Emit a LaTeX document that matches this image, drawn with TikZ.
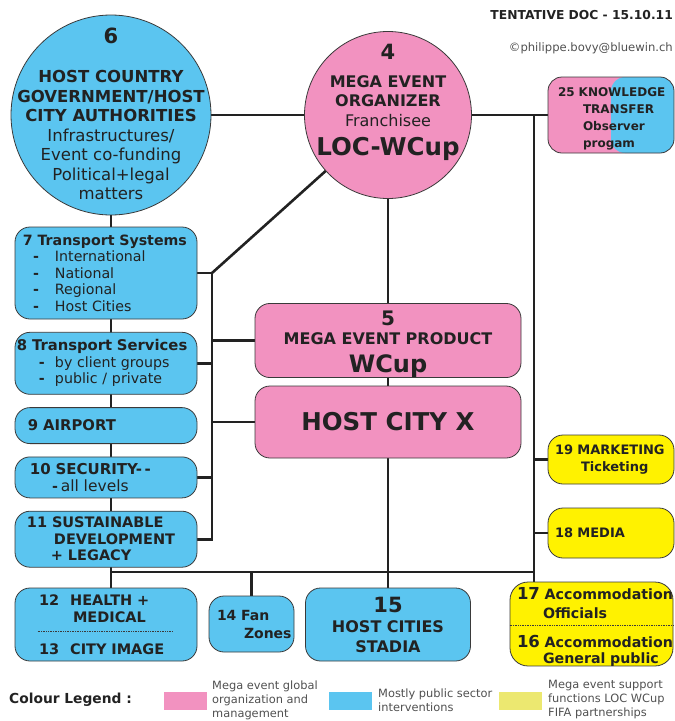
\documentclass[tikz,border=0pt]{standalone}
\usepackage{fontspec}
\setmainfont{DejaVu Sans}
\usetikzlibrary{positioning, calc, backgrounds}

\definecolor{pubblue}{HTML}{5BC5F0}
\definecolor{orgpink}{HTML}{F292C0}
\definecolor{supyellow}{HTML}{FFF200}
\definecolor{legyellow}{HTML}{ECE870}
\definecolor{ink}{HTML}{222222}
\definecolor{greyink}{HTML}{505050}
\definecolor{edge}{HTML}{3A3A3A}

% no word splitting inside the boxes
\hyphenpenalty=10000
\exhyphenpenalty=10000

% bullet of the transport lists
\newcommand{\itm}[1][10pt]{\hspace*{#1}\makebox[22pt][l]{\textbf{-}}}

\begin{document}
\begin{tikzpicture}[x=1pt, y=-1pt,
  box/.style = {draw=edge, line width=0.8pt, rounded corners=15pt, text=ink, inner sep=0pt},
  pubbox/.style = {box, fill=pubblue},
  orgbox/.style = {box, fill=orgpink},
  supbox/.style = {box, fill=supyellow},
  ring/.style = {draw=edge, line width=0.8pt, circle, inner sep=0pt},
  ringtext/.style = {text=ink, align=center, inner sep=0pt},
  leftbox/.style = {pubbox, minimum width=182pt, text width=166pt, align=left,
    font=\fontsize{14.2}{16.5}\selectfont},
  swatch/.style = {minimum width=43pt, minimum height=18pt, inner sep=0pt},
  legtext/.style = {anchor=west, inner sep=0pt, align=left, text=greyink,
    font=\fontsize{11.4}{14}\selectfont},
  wire/.style = {line width=2.6pt, draw=ink, line cap=rect},
  node distance=12.5pt]

\useasboundingbox (0,0) rectangle (675,721);

% header
\node[anchor=east, inner sep=0pt, text=ink, font=\bfseries\fontsize{12.3}{14}\selectfont] (hdr) at (673,15) {TENTATIVE DOC - 15.10.11};
\node[anchor=east, inner sep=0pt, text=greyink, font=\fontsize{11.6}{13}\selectfont] (mail) at (673,48) {©philippe.bovy@bluewin.ch};

% the two circles
\node[ring, fill=pubblue, minimum size=200pt] (c6) at (111,115) {};
\node[ringtext, font=\fontsize{16.5}{19.5}\selectfont] (c6t) at (111,114) {\textbf{\fontsize{21}{21}\selectfont 6}\\[20pt]
  \textbf{HOST COUNTRY}\\ \textbf{GOVERNMENT/HOST}\\ \textbf{CITY AUTHORITIES}\\
  Infrastructures/\\ Event co-funding\\ Political+legal\\ matters};

\node[ring, fill=orgpink, minimum size=167pt] (c4) at (388,115) {};
\node[ringtext, font=\fontsize{16}{19.5}\selectfont] (c4t) at (388,102) {\textbf{\fontsize{21}{21}\selectfont 4}\\[8.5pt]
  \textbf{MEGA EVENT}\\ \textbf{ORGANIZER}\\ Franchisee\\[9.5pt]
  \textbf{\fontsize{24.5}{26}\selectfont LOC-WCup}};

% knowledge transfer, half pink half blue
\node[orgbox, minimum width=126pt, minimum height=76pt, rounded corners=14pt,
  text width=106pt, align=left, font=\bfseries\fontsize{12}{17}\selectfont,
  path picture={\fill[pubblue] (path picture bounding box.north) rectangle (path picture bounding box.south east);}]
  (b25) at (611,115) {\rule{0pt}{17pt}25~KNOWLEDGE\\ \hspace*{25pt}TRANSFER\\ \hspace*{25pt}Observer\\ \hspace*{25pt}progam};

% left column
\node[leftbox, minimum height=92pt] (b7) at (106,273) {\textbf{7~Transport~Systems}\\
  \itm International\\ \itm National\\ \itm Regional\\ \itm Host Cities};
\node[leftbox, minimum height=62pt, below=of b7] (b8) {\hspace*{-6pt}\textbf{\fontsize{14.8}{16.5}\selectfont 8~Transport~Services}\\
  \itm[16pt]\hspace*{-6pt}by client groups\\ \itm[16pt]\hspace*{-6pt}public / private};
\node[leftbox, minimum height=36pt, below=of b8, font=\bfseries\fontsize{14.8}{18}\selectfont] (b9) {\hspace*{5pt}9 AIRPORT};
\node[leftbox, minimum height=41pt, below=of b9] (b10) {\hspace*{7pt}\textbf{\fontsize{15}{16.5}\selectfont 10~SECURITY-\,-}\\
  \hspace*{29pt}\textbf{-}\hspace{3pt}{\fontsize{15.5}{16.5}\selectfont all levels}};
\node[leftbox, minimum height=56pt, below=of b10, font=\bfseries\fontsize{14.5}{16.5}\selectfont] (b11) {\hspace*{4pt}11~SUSTAINABLE\\
  \hspace*{31pt}DEVELOPMENT\\ \hspace*{28pt}+ LEGACY};

% centre
\node[orgbox, minimum width=266pt, minimum height=73pt, align=center,
  font=\bfseries\fontsize{16}{19.5}\selectfont] (b5) at (388,340.5)
  {\rule{0pt}{21.6pt}{\fontsize{20}{20}\selectfont 5}\\ MEGA EVENT PRODUCT\\[8.5pt]
  {\fontsize{24}{24}\selectfont WCup}};
\node[orgbox, minimum width=266pt, minimum height=72pt,
  font=\bfseries\fontsize{24.5}{29}\selectfont] (bx) at (388,422) {HOST CITY X};

% right column
\node[supbox, minimum width=126pt, minimum height=49pt, text width=112pt, align=left,
  font=\bfseries\fontsize{13}{17}\selectfont] (b19) at (611,459.5) {19~MARKETING\\ \hspace*{26pt}Ticketing};
\node[supbox, minimum width=126pt, minimum height=50pt, text width=112pt, align=left,
  font=\bfseries\fontsize{13}{17}\selectfont] (b18) at (611,533) {18 MEDIA};

% bottom row
\node[pubbox, minimum width=182pt, minimum height=73pt, text width=134pt, align=left,
  font=\bfseries\fontsize{14.5}{17}\selectfont] (b12) at (106,624.5)
  {12\hspace{11pt}HEALTH~+\\ \hspace*{34pt}MEDICAL\\[15pt] 13\hspace{11pt}CITY~IMAGE};
\draw[edge, densely dotted, line width=0.7pt] ([xshift=23pt, yshift=-6.5pt]b12.west) -- ([xshift=-24pt, yshift=-6.5pt]b12.east);
\node[pubbox, minimum width=85pt, minimum height=56pt, text width=69pt, align=left,
  font=\bfseries\fontsize{14}{18}\selectfont] (b14) at (251.5,624) {14 Fan\\ \hspace*{27pt}Zones};
\node[pubbox, minimum width=165pt, minimum height=73pt, align=center,
  font=\bfseries\fontsize{16}{20}\selectfont] (b15) at (388,624.5)
  {{\fontsize{21}{21}\selectfont 15}\\ HOST CITIES\\ STADIA};
\node[supbox, minimum width=163pt, minimum height=82pt, rounded corners=18pt, text width=149pt, align=left,
  font=\bfseries\fontsize{14.2}{17.5}\selectfont] (b17) at (591.5,624)
  {\rule{0pt}{17pt}{\fontsize{16.5}{17.5}\selectfont 17}~Accommodation\\[1.5pt] \hspace*{26pt}Officials\\[11.5pt]
   {\fontsize{16.5}{17.5}\selectfont 16}~Accommodation\\[-1.5pt] \hspace*{26pt}General~public};
\draw[edge, densely dotted, line width=0.7pt] ([yshift=-1pt]b17.west) -- ([yshift=-1pt]b17.east);

% legend
\node[anchor=west, inner sep=0pt, text=ink, font=\bfseries\fontsize{13.8}{16}\selectfont] (legtitle) at (9,700) {Colour Legend :};
\node[swatch, fill=orgpink] (swpink) at (185.5,701) {};
\node[legtext] (legpink) at (212,700) {Mega event global\\ organization and\\ management};
\node[swatch, fill=pubblue] (swblue) at (350,701) {};
\node[legtext] (legblue) at (378,700) {Mostly public sector\\ interventions};
\node[swatch, fill=legyellow] (swyell) at (520,701) {};
\node[legtext] (legyell) at (548,700) {Mega event support\\ functions LOC WCup\\ FIFA partnerships};

% connecting lines, kept behind the boxes
\coordinate (lbus) at (212,0);
\coordinate (busL) at (111,572);
\coordinate (busR) at (534,572);
\coordinate (rtop) at (534,115);
\begin{scope}[on background layer]
\draw[wire] (c6) -- (c4);
\draw[wire] (c4) -- (b25);
\draw[wire] (rtop) -- (busR);
\draw[wire] (c6) -- (busL);
\draw[wire] (busL) -- (b12.north -| busL);
\draw[wire] (busL) -- (busR);
\draw[wire] (b14.north |- busL) -- (b14.north);
\draw[wire] (c4) -- (b15);
\draw[wire] (busR) -- (busR |- b17.north);
\draw[wire] (rtop |- b19) -- (b19);
\draw[wire] (rtop |- b18) -- (b18);
\draw[wire] (b7.east -| lbus) -- (b11.east -| lbus);
\draw[wire] (b7.east) -- (b7.east -| lbus);
\draw[wire] (b8.east) -- (b8.east -| lbus);
\draw[wire] (b10.east) -- (b10.east -| lbus);
\draw[wire] (b11.east) -- (b11.east -| lbus);
\draw[wire] (b5.west -| lbus) -- (b5.west);
\draw[wire] (bx.west -| lbus) -- (bx.west);
\draw[wire] (b7.east -| lbus) -- (c4);
\end{scope}
\end{tikzpicture}
\end{document}
